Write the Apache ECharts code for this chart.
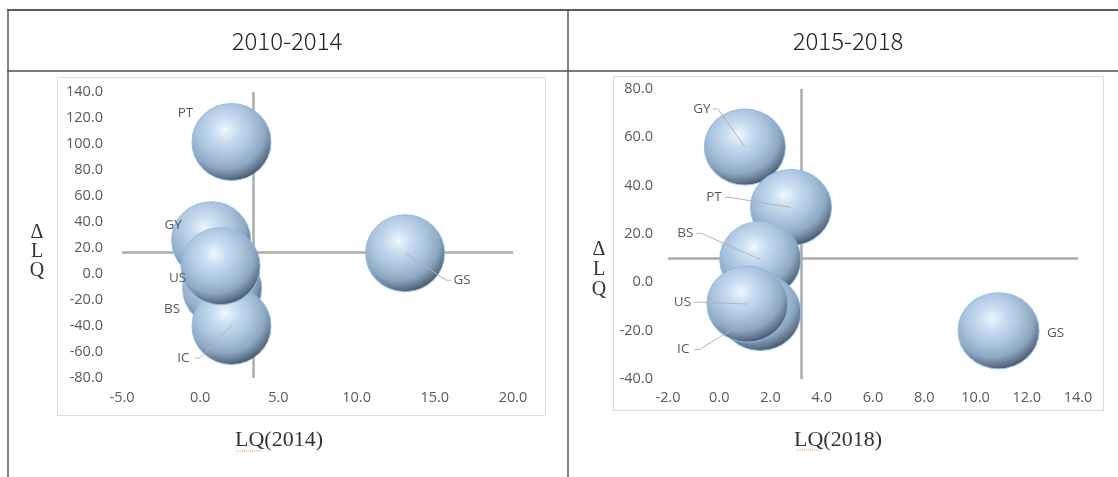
<!DOCTYPE html>
<html>
<head>
<meta charset="utf-8">
<script src="https://cdn.jsdelivr.net/npm/echarts@6/dist/echarts.min.js"></script>
<style>
html,body{margin:0;padding:0;background:#fff;}
#chart{width:1118px;height:477px;}
</style>
</head>
<body>
<div id="chart"></div>
<script>
// ---- data ----
const periods = ['2010-2014', '2015-2018'];
const names = ['GY', 'PT', 'BS', 'IC', 'US', 'GS'];
// 2010-2014
const lq2014 = [0.7, 2.0, 1.4, 2.0, 1.3, 13.1];
const dlq2014 = [26, 101.5, -11, -40, 6, 16];
// 2015-2018
const lq2018 = [1.0, 2.8, 1.6, 1.6, 1.1, 10.9];
const dlq2018 = [56, 31, 9.5, -12.5, -9, -20];
// axis ranges / crossing points
const xRangeL = [-5, 20, 5];
const yRangeL = [-80, 140, 20];
const xRangeR = [-2, 14, 2];
const yRangeR = [-40, 80, 20];
const crossL = [3.4, 17];
const crossR = [3.2, 10];
const xTitles = ['LQ(2014)', 'LQ(2018)'];
const yTitle = 'Δ\nL\nQ';

// ---- label placement (style) ----
const labOffL = {GY:[-38,-15,0], PT:[-46,-29,0], BS:[-50,21,0], IC:[-48,32,1], US:[-43,12,0], GS:[57,27,1]};
const labOffR = {GY:[-43,-38,1], PT:[-77,-10,1], BS:[-75,-26,1], IC:[-77,37,1], US:[-65,-2,1], GS:[57,2,0]};

const chart = echarts.init(document.getElementById('chart'));

const bubbleColor = {
  type: 'radial', x: 0.42, y: 0.34, r: 0.7,
  colorStops: [
    {offset: 0, color: '#eef7ff'},
    {offset: 0.22, color: '#c9ddf0'},
    {offset: 0.5, color: '#a9c3dd'},
    {offset: 0.72, color: '#8ea8c2'},
    {offset: 0.88, color: '#60748a'},
    {offset: 1, color: '#37424e'}
  ]
};

function pts(xs, ys) { return xs.map((x, i) => [x, ys[i]]); }

function labelRender(offs) {
  return function (params, api) {
    const name = names[params.dataIndex];
    const c = api.coord([api.value(0), api.value(1)]);
    const o = offs[name];
    const lx = c[0] + o[0], ly = c[1] + o[1];
    const children = [];
    if (o[2]) {
      const dir = o[0] < 0 ? 1 : -1;
      const sx = lx + dir * 11, kx = sx + dir * 5;
      children.push({
        type: 'polyline',
        shape: {points: [[sx, ly], [kx, ly], [c[0], c[1]]]},
        style: {stroke: '#b4b4b4', lineWidth: 1, fill: null}
      });
    }
    children.push({
      type: 'text',
      style: {text: name, x: lx, y: ly, align: 'center', verticalAlign: 'middle',
              textAlign: 'center', textVerticalAlign: 'middle',
              fill: '#595959', fontSize: 13.5, fontFamily: 'Open Sans'}
    });
    return {type: 'group', children: children};
  };
}

const axisLabelStyle = {color: '#595959', fontSize: 14.5, fontFamily: 'Open Sans'};

function xAxisOf(idx, r, margin) {
  return {gridIndex: idx, type: 'value', min: r[0], max: r[1], interval: r[2],
    axisLine: {show: false}, axisTick: {show: false}, splitLine: {show: false},
    axisLabel: Object.assign({margin: margin, formatter: v => v.toFixed(1)}, axisLabelStyle)};
}
function yAxisOf(idx, r, margin) {
  return {gridIndex: idx, type: 'value', min: r[0], max: r[1], interval: r[2],
    axisLine: {show: false}, axisTick: {show: false}, splitLine: {show: false},
    axisLabel: Object.assign({margin: margin, formatter: v => v.toFixed(1)}, axisLabelStyle)};
}

function bubbleSeries(idx, data, size, cross) {
  return {
    type: 'scatter', xAxisIndex: idx, yAxisIndex: idx, data: data,
    symbolSize: size, z: 3,
    itemStyle: {color: bubbleColor, borderColor: 'rgba(140,185,230,0.9)', borderWidth: 1, opacity: 1},
    emphasis: {disabled: true},
    markLine: {
      silent: true, symbol: 'none', z: 1,
      label: {show: false},
      lineStyle: {color: '#ababab', width: 2.5, type: 'solid'},
      data: [{xAxis: cross[0]}, {yAxis: cross[1]}]
    }
  };
}
function labelSeries(idx, data, offs) {
  return {
    type: 'custom', xAxisIndex: idx, yAxisIndex: idx, data: data, z: 5,
    clip: false, renderItem: labelRender(offs), encode: {x: 0, y: 1}, silent: true
  };
}

const titleFont = '"Liberation Serif", "DejaVu Serif", serif';

chart.setOption({
  animation: false,
  backgroundColor: '#fff',
  grid: [
    {left: 122, top: 92, width: 391, height: 286},
    {left: 668, top: 89, width: 410, height: 290}
  ],
  xAxis: [xAxisOf(0, xRangeL, 12), xAxisOf(1, xRangeR, 11)],
  yAxis: [yAxisOf(0, yRangeL, 19), yAxisOf(1, yRangeR, 15)],
  series: [
    bubbleSeries(0, pts(lq2014, dlq2014), [79, 77], crossL),
    labelSeries(0, pts(lq2014, dlq2014), labOffL),
    bubbleSeries(1, pts(lq2018, dlq2018), [81, 76], crossR),
    labelSeries(1, pts(lq2018, dlq2018), labOffR)
  ],
  graphic: [
    // table lines
    {type: 'line', shape: {x1: 7, y1: 10, x2: 1118, y2: 10}, style: {stroke: '#5a5a5a', lineWidth: 2}, z: 0},
    {type: 'line', shape: {x1: 7, y1: 71, x2: 1118, y2: 71}, style: {stroke: '#7a7a7a', lineWidth: 2}, z: 0},
    {type: 'line', shape: {x1: 8, y1: 9, x2: 8, y2: 477}, style: {stroke: '#5a5a5a', lineWidth: 1.5}, z: 0},
    {type: 'line', shape: {x1: 568, y1: 9, x2: 568, y2: 477}, style: {stroke: '#5a5a5a', lineWidth: 1.5}, z: 0},
    // chart frames
    {type: 'rect', shape: {x: 57.5, y: 77.5, width: 488, height: 338}, style: {stroke: '#dcdcdc', fill: null, lineWidth: 1}, z: 0},
    {type: 'rect', shape: {x: 613.5, y: 76.5, width: 490, height: 334}, style: {stroke: '#dcdcdc', fill: null, lineWidth: 1}, z: 0},
    // headers
    {type: 'text', x: 287, y: 41, style: {text: periods[0], align: 'center', verticalAlign: 'middle', fill: '#222', fontSize: 24, fontWeight: 300, fontFamily: '"Noto Sans CJK KR"'}},
    {type: 'text', x: 848, y: 41, style: {text: periods[1], align: 'center', verticalAlign: 'middle', fill: '#222', fontSize: 24, fontWeight: 300, fontFamily: '"Noto Sans CJK KR"'}},
    // axis titles
    {type: 'text', x: 37, y: 252, style: {text: yTitle, align: 'center', verticalAlign: 'middle', fill: '#333', fontSize: 20, lineHeight: 19, fontFamily: titleFont}},
    {type: 'text', x: 599, y: 270, style: {text: yTitle, align: 'center', verticalAlign: 'middle', fill: '#333', fontSize: 20, lineHeight: 20, fontFamily: titleFont}},
    {type: 'text', x: 279, y: 440, style: {text: xTitles[0], align: 'center', verticalAlign: 'middle', fill: '#333', fontSize: 22, fontFamily: titleFont}},
    {type: 'text', x: 838, y: 440, style: {text: xTitles[1], align: 'center', verticalAlign: 'middle', fill: '#333', fontSize: 22, fontFamily: titleFont}},
    // spell-check underline
    {type: 'line', shape: {x1: 236, y1: 451, x2: 262, y2: 451}, style: {stroke: '#e8a040', lineWidth: 1, lineDash: [1, 1]}},
    {type: 'line', shape: {x1: 796, y1: 450, x2: 822, y2: 450}, style: {stroke: '#e8a040', lineWidth: 1, lineDash: [1, 1]}}
  ]
});
</script>
</body>
</html>
